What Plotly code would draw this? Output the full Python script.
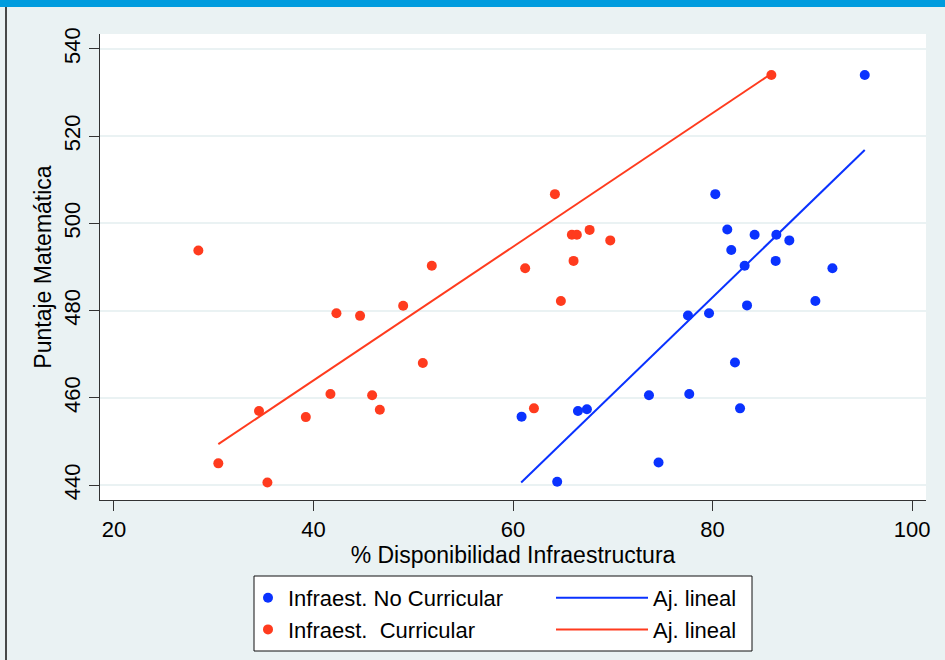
import plotly.graph_objects as go

# ---- data ----
nc_x = [95.26, 80.28, 81.48, 84.22, 86.40, 87.70, 81.88, 86.33, 83.22, 92.02, 90.31, 83.46,
        79.65, 77.54, 82.25, 77.67, 73.63, 82.76, 67.41, 66.51, 60.86, 74.59, 64.43]
nc_y = [534.0, 506.7, 498.6, 497.4, 497.4, 496.1, 493.9, 491.4, 490.3, 489.7, 482.2, 481.2,
        479.4, 478.9, 468.1, 460.9, 460.6, 457.6, 457.4, 457.0, 455.7, 445.2, 440.8]
c_x = [85.90, 64.20, 67.68, 65.90, 66.40, 69.75, 28.46, 66.07, 51.86, 61.22, 64.80, 48.99,
       42.30, 44.67, 50.96, 41.70, 45.88, 62.10, 46.65, 34.54, 39.23, 30.46, 35.38]
c_y = [534.0, 506.7, 498.5, 497.4, 497.4, 496.1, 493.8, 491.4, 490.3, 489.7, 482.2, 481.1,
       479.4, 478.8, 468.0, 460.9, 460.6, 457.6, 457.3, 457.0, 455.6, 445.0, 440.6]
fit_nc_x = [60.82, 95.26]
fit_nc_y = [440.6, 516.8]
fit_c_x = [30.46, 85.70]
fit_c_y = [449.4, 534.0]

x_ticks = [20, 40, 60, 80, 100]
y_ticks = [440, 460, 480, 500, 520, 540]

name_nc = "Infraest. No Curricular"
name_c = "Infraest.\u00a0 Curricular"
name_fit = "Aj. lineal"
x_title = "% Disponibilidad Infraestructura"
y_title = "Puntaje Matemática"

BLUE = "#0A32FF"
RED = "#FF3B1E"
BG = "#EAF2F3"
FONT = "Arial, Liberation Sans, sans-serif"

W, H = 945, 660
ML, MR, MT, MB = 100, 19, 34, 160
PW, PH = W - ML - MR, H - MT - MB


def px(xp):
    return (xp - ML) / PW


def py(yp):
    return (H - MB - yp) / PH


fig = go.Figure()
fig.add_trace(go.Scatter(x=nc_x, y=nc_y, mode="markers", name=name_nc,
                         marker=dict(color=BLUE, size=10), legend="legend"))
fig.add_trace(go.Scatter(x=c_x, y=c_y, mode="markers", name=name_c,
                         marker=dict(color=RED, size=10), legend="legend"))
fig.add_trace(go.Scatter(x=fit_nc_x, y=fit_nc_y, mode="lines", name=name_fit,
                         line=dict(color=BLUE, width=2), legend="legend2"))
fig.add_trace(go.Scatter(x=fit_c_x, y=fit_c_y, mode="lines", name=name_fit,
                         line=dict(color=RED, width=2), legend="legend2"))

axis_common = dict(
    showline=True, linecolor="#333333", linewidth=1,
    ticks="outside", ticklen=10, tickcolor="#333333", tickwidth=1,
    tickfont=dict(family=FONT, size=22, color="black"),
    zeroline=False,
)

fig.update_xaxes(range=[18.6, 101.4], tickvals=x_ticks, showgrid=False,
                 title=dict(text=x_title, font=dict(family=FONT, size=23, color="black"),
                            standoff=0),
                 **axis_common)
fig.update_yaxes(range=[436.6, 543.4], tickvals=y_ticks, tickangle=-90,
                 showgrid=True, gridcolor=BG, gridwidth=1.5,
                 title=dict(text=y_title, font=dict(family=FONT, size=23, color="black"),
                            standoff=2),
                 **axis_common)

shapes = [
    # top band
    dict(type="rect", xref="paper", yref="paper", x0=px(-5), x1=px(W + 5),
         y0=py(7), y1=py(-5), fillcolor="#009CDE", line=dict(width=0), layer="above"),
    # left border line
    dict(type="line", xref="paper", yref="paper", x0=px(6), x1=px(6),
         y0=py(H + 5), y1=py(7), line=dict(color="#111111", width=1.5), layer="above"),
    # legend box
    dict(type="rect", xref="paper", yref="paper", x0=px(254), x1=px(752),
         y0=py(651), y1=py(576), fillcolor="white", line=dict(color="#111111", width=1),
         layer="above"),
]

legend_font = dict(family=FONT, size=22, color="black")
fig.update_layout(
    width=W, height=H,
    margin=dict(l=ML, r=MR, t=MT, b=MB, autoexpand=False),
    paper_bgcolor=BG, plot_bgcolor="white",
    font=dict(family=FONT, color="black"),
    shapes=shapes,
    showlegend=True,
    legend=dict(x=px(248), y=py(577), xanchor="left", yanchor="top",
                bgcolor="rgba(0,0,0,0)", borderwidth=0, font=legend_font,
                itemwidth=30, tracegroupgap=0),
    legend2=dict(x=px(551), y=py(577), xanchor="left", yanchor="top",
                 bgcolor="rgba(0,0,0,0)", borderwidth=0, font=legend_font,
                 itemwidth=92, tracegroupgap=0),
)

fig.write_html(
    "out.html",
    config={"displayModeBar": False},
    post_script="document.body.style.margin='0';document.body.style.overflow='hidden';",
)
